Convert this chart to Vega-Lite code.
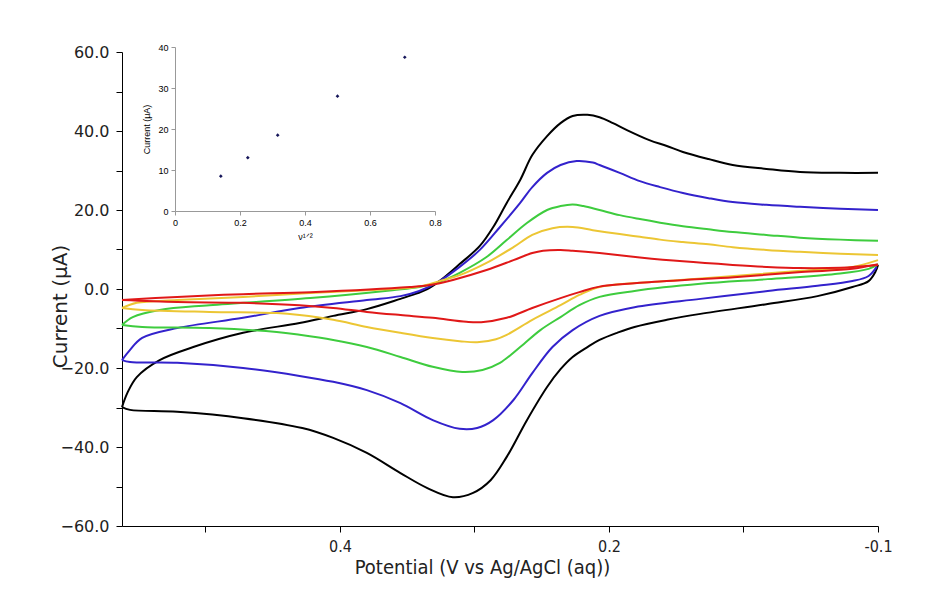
{
"$schema": "https://vega.github.io/schema/vega-lite/v6.json",
"autosize": {"type": "none"},
"padding": {"left": 122, "top": 52, "right": 66, "bottom": 76},
"width": 756,
"height": 474,
"background": "white",
"config": {"view": {"stroke": null}},
"datasets": {
"cv": [
{"s":"A","b":"u","o":1,"v":0.0,"i":29.4},{"s":"A","b":"u","o":2,"v":0.028,"i":29.4},{"s":"A","b":"u","o":3,"v":0.058,"i":29.6},{"s":"A","b":"u","o":4,"v":0.083,"i":30.4},{"s":"A","b":"u","o":5,"v":0.108,"i":31.4},{"s":"A","b":"u","o":6,"v":0.126,"i":32.9},{"s":"A","b":"u","o":7,"v":0.145,"i":34.7},{"s":"A","b":"u","o":8,"v":0.157,"i":36.2},{"s":"A","b":"u","o":9,"v":0.170,"i":37.7},{"s":"A","b":"u","o":10,"v":0.187,"i":40.3},{"s":"A","b":"u","o":11,"v":0.197,"i":42.0},{"s":"A","b":"u","o":12,"v":0.207,"i":43.5},{"s":"A","b":"u","o":13,"v":0.216,"i":44.1},{"s":"A","b":"u","o":14,"v":0.227,"i":43.8},{"s":"A","b":"u","o":15,"v":0.236,"i":42.0},{"s":"A","b":"u","o":16,"v":0.246,"i":38.7},{"s":"A","b":"u","o":17,"v":0.257,"i":33.9},{"s":"A","b":"u","o":18,"v":0.266,"i":27.6},{"s":"A","b":"u","o":19,"v":0.276,"i":21.8},{"s":"A","b":"u","o":20,"v":0.286,"i":15.7},{"s":"A","b":"u","o":21,"v":0.296,"i":10.9},{"s":"A","b":"u","o":22,"v":0.311,"i":6.3},{"s":"A","b":"u","o":23,"v":0.326,"i":2.0},{"s":"A","b":"u","o":24,"v":0.335,"i":0.0},{"s":"A","b":"u","o":25,"v":0.346,"i":-1.5},{"s":"A","b":"u","o":26,"v":0.355,"i":-2.5},{"s":"A","b":"u","o":27,"v":0.380,"i":-5.1},{"s":"A","b":"u","o":28,"v":0.405,"i":-6.8},{"s":"A","b":"u","o":29,"v":0.430,"i":-8.6},{"s":"A","b":"u","o":30,"v":0.472,"i":-11.1},{"s":"A","b":"u","o":31,"v":0.509,"i":-14.7},{"s":"A","b":"u","o":32,"v":0.534,"i":-18.0},{"s":"A","b":"u","o":33,"v":0.551,"i":-22.3},{"s":"A","b":"u","o":34,"v":0.558,"i":-26.3},{"s":"A","b":"u","o":35,"v":0.562,"i":-29.9},
{"s":"A","b":"l","o":35,"v":0.562,"i":-29.9},{"s":"A","b":"l","o":36,"v":0.556,"i":-30.6},{"s":"A","b":"l","o":37,"v":0.521,"i":-31.1},{"s":"A","b":"l","o":38,"v":0.472,"i":-32.7},{"s":"A","b":"l","o":39,"v":0.428,"i":-35.2},{"s":"A","b":"l","o":40,"v":0.405,"i":-37.7},{"s":"A","b":"l","o":41,"v":0.380,"i":-41.5},{"s":"A","b":"l","o":42,"v":0.355,"i":-46.6},{"s":"A","b":"l","o":43,"v":0.335,"i":-50.4},{"s":"A","b":"l","o":44,"v":0.316,"i":-52.7},{"s":"A","b":"l","o":45,"v":0.301,"i":-51.6},{"s":"A","b":"l","o":46,"v":0.288,"i":-48.4},{"s":"A","b":"l","o":47,"v":0.276,"i":-42.5},{"s":"A","b":"l","o":48,"v":0.261,"i":-33.2},{"s":"A","b":"l","o":49,"v":0.246,"i":-24.8},{"s":"A","b":"l","o":50,"v":0.236,"i":-20.3},{"s":"A","b":"l","o":51,"v":0.227,"i":-17.2},{"s":"A","b":"l","o":52,"v":0.216,"i":-14.7},{"s":"A","b":"l","o":53,"v":0.207,"i":-12.9},{"s":"A","b":"l","o":54,"v":0.194,"i":-11.1},{"s":"A","b":"l","o":55,"v":0.181,"i":-9.6},{"s":"A","b":"l","o":56,"v":0.157,"i":-7.8},{"s":"A","b":"l","o":57,"v":0.132,"i":-6.3},{"s":"A","b":"l","o":58,"v":0.082,"i":-3.8},{"s":"A","b":"l","o":59,"v":0.045,"i":-1.8},{"s":"A","b":"l","o":60,"v":0.019,"i":0.5},{"s":"A","b":"l","o":61,"v":0.007,"i":2.0},{"s":"A","b":"l","o":62,"v":0.002,"i":4.3},{"s":"A","b":"l","o":63,"v":0.0,"i":6.1},
{"s":"B","b":"u","o":1,"v":0.0,"i":20.0},{"s":"B","b":"u","o":2,"v":0.028,"i":20.3},{"s":"B","b":"u","o":3,"v":0.058,"i":20.8},{"s":"B","b":"u","o":4,"v":0.083,"i":21.3},{"s":"B","b":"u","o":5,"v":0.108,"i":22.0},{"s":"B","b":"u","o":6,"v":0.126,"i":23.0},{"s":"B","b":"u","o":7,"v":0.145,"i":24.3},{"s":"B","b":"u","o":8,"v":0.162,"i":25.8},{"s":"B","b":"u","o":9,"v":0.177,"i":27.3},{"s":"B","b":"u","o":10,"v":0.192,"i":29.4},{"s":"B","b":"u","o":11,"v":0.207,"i":31.4},{"s":"B","b":"u","o":12,"v":0.212,"i":32.0},{"s":"B","b":"u","o":13,"v":0.224,"i":32.4},{"s":"B","b":"u","o":14,"v":0.236,"i":31.4},{"s":"B","b":"u","o":15,"v":0.246,"i":29.4},{"s":"B","b":"u","o":16,"v":0.257,"i":25.8},{"s":"B","b":"u","o":17,"v":0.266,"i":21.8},{"s":"B","b":"u","o":18,"v":0.281,"i":15.7},{"s":"B","b":"u","o":19,"v":0.296,"i":9.9},{"s":"B","b":"u","o":20,"v":0.311,"i":5.6},{"s":"B","b":"u","o":21,"v":0.326,"i":2.0},{"s":"B","b":"u","o":22,"v":0.341,"i":-0.5},{"s":"B","b":"u","o":23,"v":0.355,"i":-1.8},{"s":"B","b":"u","o":24,"v":0.380,"i":-2.8},{"s":"B","b":"u","o":25,"v":0.430,"i":-4.8},{"s":"B","b":"u","o":26,"v":0.472,"i":-7.3},{"s":"B","b":"u","o":27,"v":0.521,"i":-9.9},{"s":"B","b":"u","o":28,"v":0.547,"i":-12.4},{"s":"B","b":"u","o":29,"v":0.556,"i":-15.4},{"s":"B","b":"u","o":30,"v":0.562,"i":-18.0},
{"s":"B","b":"l","o":30,"v":0.562,"i":-18.0},{"s":"B","b":"l","o":31,"v":0.556,"i":-18.5},{"s":"B","b":"l","o":32,"v":0.521,"i":-18.7},{"s":"B","b":"l","o":33,"v":0.472,"i":-20.0},{"s":"B","b":"l","o":34,"v":0.430,"i":-22.0},{"s":"B","b":"l","o":35,"v":0.405,"i":-23.5},{"s":"B","b":"l","o":36,"v":0.380,"i":-25.6},{"s":"B","b":"l","o":37,"v":0.355,"i":-28.9},{"s":"B","b":"l","o":38,"v":0.331,"i":-33.2},{"s":"B","b":"l","o":39,"v":0.311,"i":-35.4},{"s":"B","b":"l","o":40,"v":0.298,"i":-35.2},{"s":"B","b":"l","o":41,"v":0.286,"i":-33.2},{"s":"B","b":"l","o":42,"v":0.271,"i":-28.1},{"s":"B","b":"l","o":43,"v":0.257,"i":-21.3},{"s":"B","b":"l","o":44,"v":0.242,"i":-14.7},{"s":"B","b":"l","o":45,"v":0.227,"i":-10.4},{"s":"B","b":"l","o":46,"v":0.207,"i":-6.8},{"s":"B","b":"l","o":47,"v":0.181,"i":-4.6},{"s":"B","b":"l","o":48,"v":0.132,"i":-2.5},{"s":"B","b":"l","o":49,"v":0.082,"i":-0.5},{"s":"B","b":"l","o":50,"v":0.045,"i":0.8},{"s":"B","b":"l","o":51,"v":0.019,"i":2.0},{"s":"B","b":"l","o":52,"v":0.007,"i":3.3},{"s":"B","b":"l","o":53,"v":0.001,"i":5.6},
{"s":"C","b":"u","o":1,"v":0.0,"i":12.2},{"s":"C","b":"u","o":2,"v":0.028,"i":12.5},{"s":"C","b":"u","o":3,"v":0.058,"i":13.0},{"s":"C","b":"u","o":4,"v":0.083,"i":13.7},{"s":"C","b":"u","o":5,"v":0.108,"i":14.4},{"s":"C","b":"u","o":6,"v":0.126,"i":15.1},{"s":"C","b":"u","o":7,"v":0.145,"i":15.9},{"s":"C","b":"u","o":8,"v":0.162,"i":16.8},{"s":"C","b":"u","o":9,"v":0.177,"i":17.7},{"s":"C","b":"u","o":10,"v":0.192,"i":18.7},{"s":"C","b":"u","o":11,"v":0.207,"i":20.0},{"s":"C","b":"u","o":12,"v":0.219,"i":21.0},{"s":"C","b":"u","o":13,"v":0.227,"i":21.4},{"s":"C","b":"u","o":14,"v":0.236,"i":21.0},{"s":"C","b":"u","o":15,"v":0.246,"i":20.0},{"s":"C","b":"u","o":16,"v":0.261,"i":16.7},{"s":"C","b":"u","o":17,"v":0.276,"i":12.4},{"s":"C","b":"u","o":18,"v":0.291,"i":8.1},{"s":"C","b":"u","o":19,"v":0.311,"i":4.1},{"s":"C","b":"u","o":20,"v":0.326,"i":1.8},{"s":"C","b":"u","o":21,"v":0.341,"i":0.5},{"s":"C","b":"u","o":22,"v":0.361,"i":-0.3},{"s":"C","b":"u","o":23,"v":0.422,"i":-2.3},{"s":"C","b":"u","o":24,"v":0.497,"i":-4.1},{"s":"C","b":"u","o":25,"v":0.534,"i":-5.3},{"s":"C","b":"u","o":26,"v":0.554,"i":-7.1},{"s":"C","b":"u","o":27,"v":0.562,"i":-9.1},
{"s":"C","b":"l","o":27,"v":0.562,"i":-9.1},{"s":"C","b":"l","o":28,"v":0.547,"i":-9.6},{"s":"C","b":"l","o":29,"v":0.497,"i":-9.9},{"s":"C","b":"l","o":30,"v":0.447,"i":-10.9},{"s":"C","b":"l","o":31,"v":0.430,"i":-11.6},{"s":"C","b":"l","o":32,"v":0.405,"i":-12.9},{"s":"C","b":"l","o":33,"v":0.380,"i":-14.7},{"s":"C","b":"l","o":34,"v":0.355,"i":-17.2},{"s":"C","b":"l","o":35,"v":0.331,"i":-19.7},{"s":"C","b":"l","o":36,"v":0.309,"i":-21.0},{"s":"C","b":"l","o":37,"v":0.294,"i":-20.5},{"s":"C","b":"l","o":38,"v":0.281,"i":-18.7},{"s":"C","b":"l","o":39,"v":0.266,"i":-14.7},{"s":"C","b":"l","o":40,"v":0.251,"i":-10.4},{"s":"C","b":"l","o":41,"v":0.236,"i":-7.1},{"s":"C","b":"l","o":42,"v":0.222,"i":-4.1},{"s":"C","b":"l","o":43,"v":0.207,"i":-2.0},{"s":"C","b":"l","o":44,"v":0.181,"i":-0.5},{"s":"C","b":"l","o":45,"v":0.132,"i":1.3},{"s":"C","b":"l","o":46,"v":0.082,"i":2.5},{"s":"C","b":"l","o":47,"v":0.032,"i":3.8},{"s":"C","b":"l","o":48,"v":0.007,"i":5.1},{"s":"C","b":"l","o":49,"v":0.0,"i":6.3},
{"s":"D","b":"u","o":1,"v":0.0,"i":8.6},{"s":"D","b":"u","o":2,"v":0.028,"i":8.9},{"s":"D","b":"u","o":3,"v":0.058,"i":9.4},{"s":"D","b":"u","o":4,"v":0.083,"i":9.9},{"s":"D","b":"u","o":5,"v":0.108,"i":10.6},{"s":"D","b":"u","o":6,"v":0.126,"i":11.3},{"s":"D","b":"u","o":7,"v":0.145,"i":11.9},{"s":"D","b":"u","o":8,"v":0.162,"i":12.5},{"s":"D","b":"u","o":9,"v":0.177,"i":13.2},{"s":"D","b":"u","o":10,"v":0.192,"i":13.9},{"s":"D","b":"u","o":11,"v":0.212,"i":14.9},{"s":"D","b":"u","o":12,"v":0.227,"i":15.7},{"s":"D","b":"u","o":13,"v":0.242,"i":15.4},{"s":"D","b":"u","o":14,"v":0.257,"i":13.7},{"s":"D","b":"u","o":15,"v":0.271,"i":10.6},{"s":"D","b":"u","o":16,"v":0.291,"i":6.6},{"s":"D","b":"u","o":17,"v":0.311,"i":3.5},{"s":"D","b":"u","o":18,"v":0.326,"i":2.0},{"s":"D","b":"u","o":19,"v":0.343,"i":0.5},{"s":"D","b":"u","o":20,"v":0.380,"i":-0.3},{"s":"D","b":"u","o":21,"v":0.422,"i":-1.0},{"s":"D","b":"u","o":22,"v":0.472,"i":-2.0},{"s":"D","b":"u","o":23,"v":0.521,"i":-2.8},{"s":"D","b":"u","o":24,"v":0.551,"i":-3.5},{"s":"D","b":"u","o":25,"v":0.562,"i":-4.8},
{"s":"D","b":"l","o":25,"v":0.562,"i":-4.8},{"s":"D","b":"l","o":26,"v":0.547,"i":-5.3},{"s":"D","b":"l","o":27,"v":0.497,"i":-5.8},{"s":"D","b":"l","o":28,"v":0.447,"i":-6.1},{"s":"D","b":"l","o":29,"v":0.430,"i":-6.6},{"s":"D","b":"l","o":30,"v":0.405,"i":-7.8},{"s":"D","b":"l","o":31,"v":0.380,"i":-9.6},{"s":"D","b":"l","o":32,"v":0.355,"i":-11.1},{"s":"D","b":"l","o":33,"v":0.331,"i":-12.4},{"s":"D","b":"l","o":34,"v":0.311,"i":-13.2},{"s":"D","b":"l","o":35,"v":0.298,"i":-13.5},{"s":"D","b":"l","o":36,"v":0.284,"i":-12.7},{"s":"D","b":"l","o":37,"v":0.276,"i":-11.6},{"s":"D","b":"l","o":38,"v":0.257,"i":-7.8},{"s":"D","b":"l","o":39,"v":0.236,"i":-4.1},{"s":"D","b":"l","o":40,"v":0.222,"i":-1.5},{"s":"D","b":"l","o":41,"v":0.207,"i":0.5},{"s":"D","b":"l","o":42,"v":0.157,"i":2.0},{"s":"D","b":"l","o":43,"v":0.107,"i":3.3},{"s":"D","b":"l","o":44,"v":0.057,"i":4.6},{"s":"D","b":"l","o":45,"v":0.019,"i":5.6},{"s":"D","b":"l","o":46,"v":0.0,"i":7.3},
{"s":"E","b":"u","o":1,"v":0.0,"i":6.1},{"s":"E","b":"u","o":2,"v":0.028,"i":5.4},{"s":"E","b":"u","o":3,"v":0.058,"i":5.3},{"s":"E","b":"u","o":4,"v":0.083,"i":5.6},{"s":"E","b":"u","o":5,"v":0.108,"i":6.1},{"s":"E","b":"u","o":6,"v":0.145,"i":7.0},{"s":"E","b":"u","o":7,"v":0.177,"i":8.0},{"s":"E","b":"u","o":8,"v":0.207,"i":9.1},{"s":"E","b":"u","o":9,"v":0.227,"i":9.7},{"s":"E","b":"u","o":10,"v":0.236,"i":9.9},{"s":"E","b":"u","o":11,"v":0.249,"i":9.7},{"s":"E","b":"u","o":12,"v":0.257,"i":9.1},{"s":"E","b":"u","o":13,"v":0.271,"i":7.3},{"s":"E","b":"u","o":14,"v":0.291,"i":4.8},{"s":"E","b":"u","o":15,"v":0.316,"i":2.3},{"s":"E","b":"u","o":16,"v":0.333,"i":1.0},{"s":"E","b":"u","o":17,"v":0.348,"i":0.5},{"s":"E","b":"u","o":18,"v":0.422,"i":-0.8},{"s":"E","b":"u","o":19,"v":0.472,"i":-1.3},{"s":"E","b":"u","o":20,"v":0.521,"i":-2.0},{"s":"E","b":"u","o":21,"v":0.562,"i":-2.8},
{"s":"E","b":"l","o":21,"v":0.562,"i":-2.8},{"s":"E","b":"l","o":22,"v":0.521,"i":-3.3},{"s":"E","b":"l","o":23,"v":0.472,"i":-3.5},{"s":"E","b":"l","o":24,"v":0.430,"i":-4.1},{"s":"E","b":"l","o":25,"v":0.405,"i":-4.8},{"s":"E","b":"l","o":26,"v":0.380,"i":-5.8},{"s":"E","b":"l","o":27,"v":0.355,"i":-6.6},{"s":"E","b":"l","o":28,"v":0.331,"i":-7.3},{"s":"E","b":"l","o":29,"v":0.306,"i":-8.3},{"s":"E","b":"l","o":30,"v":0.295,"i":-8.4},{"s":"E","b":"l","o":31,"v":0.276,"i":-7.3},{"s":"E","b":"l","o":32,"v":0.257,"i":-4.8},{"s":"E","b":"l","o":33,"v":0.236,"i":-2.3},{"s":"E","b":"l","o":34,"v":0.222,"i":-0.8},{"s":"E","b":"l","o":35,"v":0.207,"i":0.6},{"s":"E","b":"l","o":36,"v":0.157,"i":2.0},{"s":"E","b":"l","o":37,"v":0.107,"i":3.0},{"s":"E","b":"l","o":38,"v":0.057,"i":4.3},{"s":"E","b":"l","o":39,"v":0.019,"i":5.1},{"s":"E","b":"l","o":40,"v":0.0,"i":6.3}
],
"ins": [
{"nu":0.141,"cur":8.5},{"nu":0.224,"cur":13.0},{"nu":0.316,"cur":18.5},{"nu":0.5,"cur":28.0},{"nu":0.707,"cur":37.5}
]
},
"layer": [
{
"data": {"name": "cv"},
"mark": {"type": "line", "strokeWidth": 2, "interpolate": "catmull-rom"},
"encoding": {
"x": {"field": "v", "type": "quantitative",
"scale": {"domain": [0, 0.562], "reverse": true, "nice": false, "zero": false},
"axis": {"orient": "bottom", "values": [0, 0.1, 0.2, 0.3, 0.4, 0.5],
"labelExpr": "abs(datum.value-0.4)<0.01 ? '0.4' : abs(datum.value-0.2)<0.01 ? '0.2' : abs(datum.value)<0.01 ? '-0.1' : ''",
"labelFont": "DejaVu Sans Condensed", "labelFontSize": 16, "labelColor": "#222", "labelPadding": 6, "labelFlush": false, "labelOverlap": false,
"tickSize": 6, "tickColor": "#000", "domainColor": "#000", "grid": false,
"title": "Potential (V vs Ag/AgCl (aq))", "titleFont": "DejaVu Sans Condensed", "titleFontSize": 20, "titleFontWeight": "normal", "titleColor": "#222", "titlePadding": 3, "titleX": 360}},
"y": {"field": "i", "type": "quantitative",
"scale": {"domain": [-60, 60], "nice": false},
"axis": {"orient": "left", "values": [-60,-50,-40,-30,-20,-10,0,10,20,30,40,50,60],
"labelExpr": "datum.value % 20 == 0 ? format(datum.value, '.1f') : ''",
"labelFont": "DejaVu Sans", "labelFontSize": 16, "labelColor": "#222", "labelPadding": 7, "labelOverlap": false,
"tickSize": 6, "tickColor": "#000", "domainColor": "#000", "grid": false,
"title": "Current (μA)", "titleFont": "DejaVu Sans", "titleFontSize": 20, "titleFontWeight": "normal", "titleColor": "#222", "titlePadding": -11, "titleY": 254}},
"color": {"field": "s", "type": "nominal", "legend": null,
"scale": {"domain": ["A","B","C","D","E"], "range": ["#000000", "#3322cc", "#3ecc3e", "#ecc634", "#e01818"]}},
"detail": {"field": "b", "type": "nominal"},
"order": {"field": "o", "type": "quantitative"}
}
},
{
"data": {"name": "ins"},
"mark": {"type": "point", "shape": "diamond", "filled": true, "size": 14, "color": "#16165a", "opacity": 1},
"encoding": {
"x": {"field": "nu", "type": "quantitative",
"scale": {"domain": [0, 0.8], "range": [53, 313], "nice": false, "zero": false},
"axis": {"orient": "bottom", "offset": -315, "values": [0, 0.2, 0.4, 0.6, 0.8], "format": "~g",
"labelFont": "Liberation Sans", "labelFontSize": 9, "labelColor": "#000", "labelPadding": 3, "labelFlush": false,
"tickSize": 4, "tickColor": "#999", "domainColor": "#999", "grid": false,
"title": "ν¹ᐟ²", "titleFont": "Liberation Sans", "titleFontSize": 9, "titleFontWeight": "normal", "titleColor": "#000", "titlePadding": 5}},
"y": {"field": "cur", "type": "quantitative",
"scale": {"domain": [0, 40], "range": [159, -5], "nice": false},
"axis": {"orient": "left", "offset": -53, "values": [0, 10, 20, 30, 40],
"labelFont": "Liberation Sans", "labelFontSize": 9, "labelColor": "#000", "labelPadding": 3, "labelFlush": false,
"tickSize": 4, "tickColor": "#999", "domainColor": "#999", "grid": false,
"title": "Current (μA)", "titleFont": "Liberation Sans", "titleFontSize": 9, "titleFontWeight": "normal", "titleColor": "#000", "titlePadding": 6}}
}
}
],
"resolve": {"scale": {"x": "independent", "y": "independent", "color": "independent"}, "axis": {"x": "independent", "y": "independent"}}
}
